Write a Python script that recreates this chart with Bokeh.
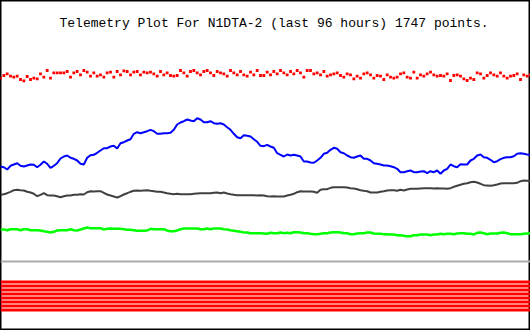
import numpy as np
from bokeh.plotting import figure
from bokeh.models import Range1d, Label, Span
from bokeh.embed import file_html
from bokeh.resources import INLINE

# ---- data (levels; larger value = lower on the plot) ----
title_text = "Telemetry Plot For N1DTA-2 (last 96 hours) 1747 points."

red_ch = [77.7, 75.0, 73.3, 75.7, 76.7, 75.7, 79.0, 80.3, 76.0, 79.0, 77.7, 78.3, 73.3, 76.7, 70.0, 77.7,
          72.3, 72.3, 72.3, 72.3, 71.0, 76.7, 72.3, 71.0, 74.3, 70.0, 71.7, 75.7, 72.3, 75.7, 74.3, 76.7,
          72.3, 71.7, 76.7, 71.0, 74.3, 70.3, 71.0, 74.3, 71.7, 71.0, 74.3, 71.7, 72.3, 71.7, 73.3, 75.7,
          71.0, 74.3, 72.3, 75.0, 75.7, 75.0, 70.0, 72.3, 75.7, 71.0, 70.0, 72.3, 74.3, 71.0, 70.0, 72.3,
          75.0, 71.0, 72.3, 73.3, 75.7, 70.0, 72.3, 74.3, 71.0, 74.3, 75.7, 71.7, 74.3, 70.0, 75.0, 75.0,
          71.7, 74.3, 71.0, 73.3, 70.0, 72.3, 74.3, 71.0, 73.3, 70.0, 72.3, 76.7, 70.0, 70.0, 73.3, 72.3,
          74.3, 71.0, 75.7, 74.3, 73.3, 72.3, 75.0, 76.7, 73.3, 74.3, 78.3, 75.7, 77.7, 73.3, 72.3, 74.3,
          77.7, 75.0, 75.7, 79.0, 74.3, 76.7, 77.7, 76.7, 73.3, 72.3, 76.7, 77.7, 71.7, 77.7, 74.3, 75.7,
          73.3, 71.7, 74.3, 75.7, 75.0, 75.7, 73.3, 80.0, 75.0, 74.3, 75.7, 78.3, 80.0, 77.7, 79.0, 72.3,
          73.3, 77.7, 75.0, 72.3, 74.3, 75.7, 72.3, 75.7, 77.7, 75.7, 75.0, 73.3, 79.0, 74.3, 75.7, 74.3]

blue_ch = [166.0, 166.7, 169.0, 165.3, 164.0, 162.7, 165.3, 166.0, 165.0, 164.0, 164.3, 166.7, 164.3, 161.0, 163.3, 167.3,
           165.3, 162.7, 158.0, 156.0, 155.0, 157.3, 158.3, 160.0, 163.3, 164.0, 157.3, 154.7, 154.3, 152.3, 150.0, 147.7,
           147.7, 146.0, 145.3, 148.0, 142.7, 141.7, 140.0, 138.7, 133.3, 131.7, 132.7, 131.7, 130.7, 129.3, 130.7, 133.3,
           133.3, 132.7, 132.7, 132.3, 129.3, 124.0, 122.0, 120.7, 119.0, 120.0, 120.7, 117.7, 119.0, 121.7, 121.7, 120.7,
           122.7, 123.3, 122.7, 124.0, 126.7, 129.3, 133.3, 136.7, 137.7, 134.7, 135.3, 136.0, 138.7, 141.3, 145.3, 145.7,
           144.3, 146.0, 147.3, 152.7, 154.3, 156.0, 154.0, 155.0, 154.3, 155.0, 156.0, 161.0, 161.0, 162.0, 162.3, 160.0,
           157.3, 153.3, 152.3, 149.3, 147.3, 148.3, 151.7, 152.7, 155.0, 156.7, 157.3, 156.0, 155.0, 158.3, 158.3, 160.0,
           162.7, 163.3, 164.0, 165.0, 165.0, 165.7, 166.7, 168.3, 171.7, 171.7, 170.7, 170.0, 171.7, 171.7, 171.0, 170.7,
           172.7, 170.7, 171.7, 170.0, 173.3, 170.0, 168.3, 164.0, 165.7, 166.7, 163.7, 164.0, 164.0, 160.0, 158.3, 155.0,
           154.0, 156.7, 157.3, 159.3, 161.7, 160.7, 158.7, 157.3, 156.7, 156.7, 155.7, 153.3, 152.7, 153.3, 154.0, 154.3]

black_ch = [194.3, 193.7, 192.7, 191.3, 189.7, 189.3, 189.7, 190.0, 191.3, 192.0, 193.3, 195.7, 194.3, 192.7, 194.7, 195.0,
            195.0, 195.7, 196.7, 195.7, 195.0, 195.0, 194.3, 194.3, 193.7, 194.0, 191.7, 190.7, 191.0, 190.7, 190.7, 192.3,
            194.0, 195.0, 196.0, 197.0, 195.7, 194.0, 192.7, 191.3, 190.3, 190.0, 190.3, 190.0, 189.7, 190.3, 190.7, 191.3,
            191.3, 192.0, 192.7, 193.3, 193.7, 193.3, 193.7, 193.7, 193.7, 193.7, 193.3, 193.0, 192.7, 192.7, 192.7, 192.7,
            192.3, 192.0, 192.7, 192.0, 193.0, 193.7, 194.3, 194.7, 194.7, 194.7, 194.7, 194.7, 194.7, 195.0, 194.7, 195.0,
            195.7, 196.0, 195.7, 196.0, 196.0, 196.0, 195.0, 194.3, 193.3, 191.7, 190.7, 191.0, 191.0, 191.0, 191.3, 192.3,
            189.3, 188.7, 188.7, 187.3, 186.7, 186.7, 186.7, 186.7, 187.0, 187.7, 188.0, 188.7, 189.7, 190.3, 190.7, 192.0,
            192.0, 192.0, 191.3, 190.7, 190.0, 189.7, 189.7, 190.3, 189.3, 190.0, 189.0, 188.3, 188.3, 188.3, 188.0, 187.7,
            187.7, 187.7, 188.0, 187.7, 188.0, 188.0, 188.3, 187.7, 186.3, 185.3, 184.3, 183.3, 182.7, 181.7, 181.3, 182.0,
            183.3, 184.7, 185.0, 185.3, 184.7, 184.0, 183.0, 182.7, 182.7, 182.7, 182.7, 182.3, 180.7, 180.0, 180.3, 180.7]

green_ch = [229.0, 229.0, 229.7, 228.7, 228.7, 228.7, 229.7, 228.7, 228.7, 229.7, 229.7, 229.7, 230.0, 230.7, 231.3, 232.0,
            231.3, 230.0, 229.7, 229.7, 229.7, 228.7, 229.7, 230.0, 229.0, 228.0, 227.0, 227.7, 227.7, 227.7, 227.7, 229.0,
            228.3, 228.0, 228.3, 228.3, 228.3, 228.7, 229.3, 229.3, 229.7, 230.3, 230.3, 230.3, 230.0, 228.3, 228.7, 228.7,
            228.7, 228.7, 230.0, 230.7, 230.7, 230.0, 228.7, 228.0, 228.0, 228.0, 228.0, 228.0, 228.7, 228.7, 228.0, 228.7,
            228.0, 228.0, 228.0, 228.7, 229.0, 229.7, 230.3, 230.7, 231.3, 232.0, 232.0, 232.7, 232.7, 232.7, 232.7, 233.0,
            233.3, 232.3, 232.7, 232.7, 232.0, 232.7, 232.3, 232.7, 231.7, 231.7, 232.0, 232.7, 232.7, 233.3, 233.7, 233.7,
            233.3, 232.7, 232.7, 232.0, 231.7, 231.7, 232.0, 232.7, 232.7, 233.7, 233.7, 233.0, 232.7, 232.7, 232.0, 232.0,
            233.0, 233.3, 233.3, 233.7, 233.7, 234.0, 234.0, 234.7, 234.7, 235.3, 235.7, 235.7, 234.7, 234.7, 234.0, 234.0,
            234.0, 234.7, 234.0, 234.0, 233.3, 233.7, 233.3, 233.3, 233.7, 233.0, 232.7, 232.7, 233.3, 233.3, 234.0, 232.3,
            232.0, 232.7, 233.7, 233.0, 233.0, 233.0, 232.3, 232.0, 232.7, 233.7, 233.7, 233.7, 233.7, 233.3, 233.0, 233.0]

zero_level = 261.0
bit_rows = [281.5, 285.5, 289.5, 293.5, 297.5, 301.5, 305.5, 309.5]

n = len(blue_ch)
hours = np.linspace(0, 96, n)

p = figure(width=530, height=330, output_backend="svg", toolbar_location=None,
           x_axis_type=None, y_axis_type=None,
           x_range=Range1d(0, 96), y_range=Range1d(330, 0),
           min_border=0, background_fill_color="white", border_fill_color="white")
p.grid.visible = False
p.outline_line_color = "black"
p.outline_line_width = 2

p.add_layout(Span(location=zero_level, dimension="width", line_color="#aaaaaa", line_width=2))

p.hbar(y=bit_rows, left=0, right=96, height=3, color="#ff0000", line_width=0)

p.line(hours, green_ch, line_color="#00ff00", line_width=2.5)
p.line(hours, black_ch, line_color="#404040", line_width=2)
p.line(hours, blue_ch, line_color="#0000ff", line_width=2)
p.scatter(hours, red_ch, marker="square", size=2.8, color="#ff0000", line_width=0)

p.add_layout(Label(x=59, y=330 - 23, x_units="screen", y_units="screen", text=title_text,
                   text_font="Liberation Mono", text_font_size="13px", text_color="black",
                   text_baseline="alphabetic"))

open("out.html", "w").write(file_html(p, INLINE))
